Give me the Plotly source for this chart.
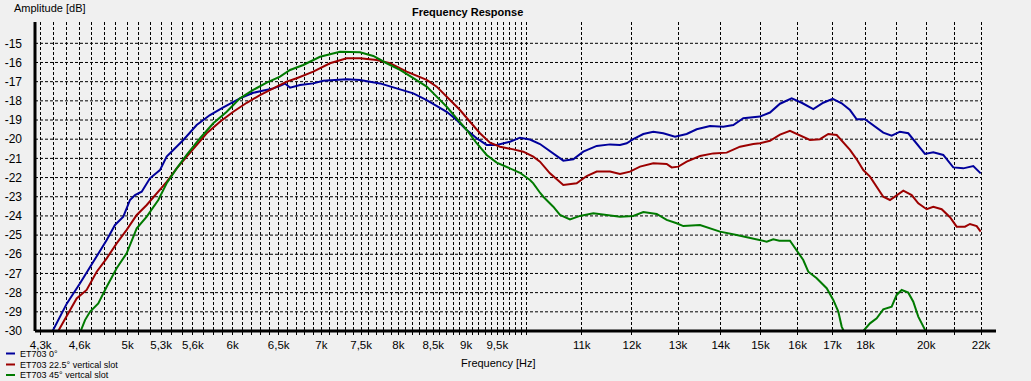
import math
import plotly.graph_objects as go

# ---------------- data ----------------
blue_f = [4390, 4500, 4604, 4711, 4822, 4892, 4963, 5021, 5065, 5124, 5198, 5289, 5351, 5413, 5508,
          5637, 5769, 5904, 6077, 6219, 6366, 6439, 6515, 6571, 6629, 6745, 6902, 7023, 7314, 7485,
          7749, 7977, 8211, 8404, 8551, 8701, 8853, 9008, 9166, 9326, 9490, 9711, 9881, 10054, 10230,
          10469, 10653, 10839, 11029, 11289, 11552, 11755, 11892, 12029, 12240, 12454, 12672, 12932,
          13197, 13429, 13742, 14063, 14310, 14560, 14988, 15251, 15518, 15836, 16113, 16441, 16729,
          17004, 17272, 17523, 17728, 17985, 18246, 18565, 18838, 19112, 19389, 19674, 19959, 20249,
          20604, 20964, 21331, 21705, 21986]
blue_db = [-30.0, -28.56, -27.51, -26.39, -25.26, -24.47, -24.04, -23.17, -22.91, -22.74, -22.04, -21.61,
           -20.91, -20.56, -20.04, -19.26, -18.74, -18.34, -17.87, -17.58, -17.43, -17.35, -17.22, -17.10,
           -17.31, -17.17, -17.09, -16.95, -16.88, -16.91, -17.09, -17.35, -17.61, -17.96, -18.27, -18.57,
           -19.00, -19.52, -19.95, -20.30, -20.30, -20.13, -19.92, -20.02, -20.25, -20.77, -21.12, -21.05,
           -20.65, -20.35, -20.27, -20.30, -20.21, -20.00, -19.73, -19.61, -19.69, -19.87, -19.73, -19.48,
           -19.31, -19.35, -19.26, -18.91, -18.82, -18.61, -18.15, -17.87, -18.10, -18.43, -18.10, -17.90,
           -18.13, -18.48, -18.96, -18.96, -19.26, -19.66, -19.82, -19.61, -19.69, -20.21, -20.77, -20.68,
           -20.82, -21.47, -21.52, -21.40, -21.78]

red_f = [4433, 4500, 4577, 4657, 4739, 4822, 4906, 4992, 5080, 5169, 5259, 5351, 5445, 5540, 5637,
         5736, 5870, 6007, 6149, 6292, 6439, 6515, 6591, 6706, 6902, 7105, 7314, 7485, 7705, 7885,
         8117, 8404, 8551, 8751, 8904, 9060, 9218, 9380, 9544, 9767, 9938, 10112, 10230, 10409, 10653,
         10903, 11094, 11289, 11552, 11755, 11960, 12170, 12454, 12747, 12858, 13007, 13197, 13506,
         13821, 14146, 14477, 14815, 14988, 15251, 15518, 15789, 16066, 16347, 16634, 16875, 17123,
         17320, 17523, 17728, 17932, 18142, 18354, 18565, 18783, 19002, 19221, 19504, 19728, 20018,
         20249, 20546, 20845, 21088, 21394, 21581, 21833, 21986]
red_db = [-30.0, -29.17, -28.30, -27.86, -26.91, -26.21, -25.43, -24.73, -23.95, -23.43, -22.82, -22.22,
          -21.52, -20.91, -20.35, -19.69, -19.09, -18.57, -18.10, -17.70, -17.35, -17.17, -17.00, -16.82,
          -16.48, -16.04, -15.78, -15.78, -15.87, -16.04, -16.48, -16.91, -17.26, -17.96, -18.48, -19.09,
          -19.69, -20.18, -20.39, -20.53, -20.65, -20.91, -21.17, -21.78, -22.39, -22.30, -21.92, -21.69,
          -21.69, -21.81, -21.69, -21.43, -21.26, -21.29, -21.47, -21.43, -21.17, -20.88, -20.74, -20.70,
          -20.39, -20.25, -20.21, -20.08, -19.76, -19.56, -19.78, -20.04, -20.00, -19.73, -19.78, -20.18,
          -20.56, -21.05, -21.61, -21.95, -22.48, -23.00, -23.17, -22.91, -22.68, -22.91, -23.34, -23.65,
          -23.52, -23.65, -24.07, -24.56, -24.56, -24.42, -24.53, -24.82]

green_f = [4609, 4644, 4684, 4752, 4822, 4906, 4992, 5080, 5169, 5274, 5351, 5445, 5540, 5670, 5802,
           5939, 6077, 6219, 6366, 6515, 6629, 6783, 6983, 7230, 7485, 7660, 7840, 8023, 8211, 8404,
           8551, 8701, 8853, 9008, 9166, 9326, 9490, 9711, 9881, 10054, 10112, 10218, 10289, 10469,
           10592, 10777, 10966, 11222, 11486, 11755, 12029, 12240, 12528, 12747, 12970, 13120, 13506,
           13821, 13983, 14394, 14815, 15164, 15338, 15499, 15789, 15974, 16158, 16299, 16539, 16828,
           17022, 17171, 17272, 17320, 17450, 17800, 17932, 18142, 18354, 18565, 18838, 19002, 19168,
           19389, 19558, 19728, 19900, 19983, 20100]
green_db = [-30.0, -29.43, -29.00, -28.56, -27.69, -26.73, -25.95, -24.65, -24.04, -23.17, -22.30, -21.52,
            -20.82, -19.95, -19.17, -18.57, -17.87, -17.43, -17.05, -16.74, -16.39, -16.13, -15.70, -15.44,
            -15.47, -15.66, -16.04, -16.39, -16.82, -17.26, -17.78, -18.31, -18.91, -19.52, -20.21, -20.82,
            -21.22, -21.52, -21.75, -22.13, -22.30, -22.74, -23.00, -23.52, -23.95, -24.18, -24.00, -23.86,
            -23.95, -24.04, -24.00, -23.80, -23.90, -24.21, -24.38, -24.53, -24.47, -24.70, -24.82, -25.00,
            -25.17, -25.34, -25.22, -25.29, -25.29, -25.78, -26.30, -26.91, -27.25, -27.77, -28.38, -28.99,
            -29.77, -29.95, -31.0, -31.0, -30.0, -29.60, -29.34, -28.87, -28.73, -28.12, -27.86, -28.00,
            -28.47, -29.25, -29.77, -30.0, -31.0]

series_names = ["ET703 0°", "ET703 22.5° vertical slot", "ET703 45° vertcal slot"]
series_colors = ["#00009c", "#9c0000", "#007a00"]

# axis ticks / grid
grid_freqs = [f for f in range(4300, 10001, 100)] + [f for f in range(11000, 22001, 1000)]
labels = {4300: "4,3k", 4600: "4,6k", 5000: "5k", 5300: "5,3k", 5600: "5,6k", 6000: "6k",
          6500: "6,5k", 7000: "7k", 7500: "7,5k", 8000: "8k", 8500: "8,5k", 9000: "9k",
          9500: "9,5k", 11000: "11k", 12000: "12k", 13000: "13k", 14000: "14k", 15000: "15k",
          16000: "16k", 17000: "17k", 18000: "18k", 20000: "20k", 22000: "22k"}
tick_text = [labels.get(f, "") for f in grid_freqs]
db_ticks = list(range(-30, -14))

# ---------------- figure ----------------
W, H = 1031, 381
ML, MR, MT, MB = 35, 35, 22, 50
pw = W - ML - MR
ph = H - MT - MB
X0, X1 = 3.629171, 4.353688
Y0, Y1 = -30.0, -30.0 + ph / 19.18

def px_x(p):
    return (p - ML) / pw

def px_y(p):
    return (H - MB - p) / ph

FONT = "Liberation Sans, Arial, sans-serif"

fig = go.Figure()
for f, d, n, c in zip([blue_f, red_f, green_f], [blue_db, red_db, green_db], series_names, series_colors):
    fig.add_trace(go.Scatter(x=f, y=d, mode="lines", name=n, showlegend=False,
                             line=dict(color=c, width=2)))

shapes = []
xg_end = (math.log10(22000) - X0) / (X1 - X0)
for v in db_ticks[1:]:
    shapes.append(dict(type="line", xref="paper", yref="y", x0=0, x1=xg_end, y0=v, y1=v,
                       line=dict(color="black", width=1, dash="3px,2px"), layer="below"))
# axis lines
shapes.append(dict(type="line", xref="paper", yref="paper", x0=0, x1=1, y0=0, y1=0,
                   line=dict(color="black", width=3)))
shapes.append(dict(type="line", xref="paper", yref="paper", x0=0, x1=0, y0=0, y1=1,
                   line=dict(color="black", width=3)))

annotations = [
    dict(text="<b>Frequency Response</b>", x=px_x(467), y=px_y(12), xref="paper", yref="paper",
         showarrow=False, xanchor="center", yanchor="middle", font=dict(size=11, color="black", family=FONT)),
    dict(text="Amplitude [dB]", x=px_x(12), y=px_y(8), xref="paper", yref="paper",
         showarrow=False, xanchor="left", yanchor="middle", font=dict(size=11, color="black", family=FONT)),
    dict(text="Frequency [Hz]", x=px_x(498), y=px_y(363), xref="paper", yref="paper",
         showarrow=False, xanchor="center", yanchor="middle", font=dict(size=11, color="black", family=FONT)),
]
leg_y = [353.5, 364.5, 375]
for n, c, yy in zip(series_names, series_colors, leg_y):
    shapes.append(dict(type="line", xref="paper", yref="paper", x0=px_x(6), x1=px_x(15),
                       y0=px_y(yy), y1=px_y(yy), line=dict(color=c, width=2)))
    annotations.append(dict(text=n, x=px_x(18), y=px_y(yy), xref="paper", yref="paper",
                            showarrow=False, xanchor="left", yanchor="middle",
                            font=dict(size=9, color="black", family=FONT)))

fig.update_layout(
    width=W, height=H,
    margin=dict(l=ML, r=MR, t=MT, b=MB, pad=0, autoexpand=False),
    paper_bgcolor="#f0f0f0", plot_bgcolor="#f0f0f0",
    font=dict(family=FONT, color="black", size=11),
    shapes=shapes, annotations=annotations,
    xaxis=dict(type="log", range=[X0, X1], tickmode="array", tickvals=grid_freqs, ticktext=tick_text,
               showgrid=True, gridcolor="black", gridwidth=1, griddash="3px,2px",
               ticks="outside", ticklen=3, tickcolor="black", tickwidth=1,
               tickfont=dict(size=11.5, family=FONT, color="black"),
               showline=False, zeroline=False, tickangle=0, automargin=False),
    yaxis=dict(range=[Y0, Y1], tickmode="array", tickvals=db_ticks, ticktext=[str(v) for v in db_ticks],
               showgrid=False, zeroline=False, showline=False, ticks="",
               ticklabelstandoff=12, automargin=False,
               tickfont=dict(size=12, family=FONT, color="black")),
)

fig.write_html("out.html", config={"displayModeBar": False},
               post_script="document.body.style.margin='0';document.body.style.background='#f0f0f0';")
